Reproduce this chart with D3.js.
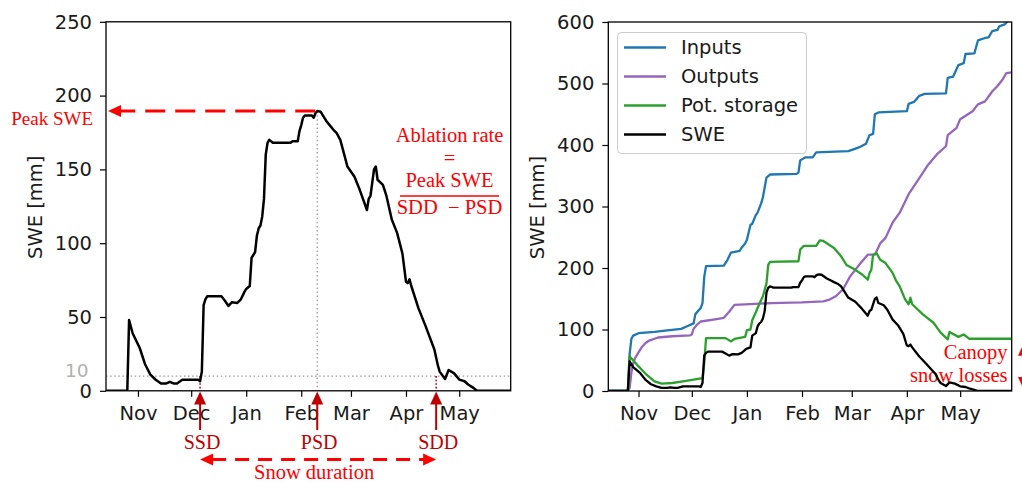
<!DOCTYPE html>
<html>
<head>
<meta charset="utf-8">
<script src="https://cdn.jsdelivr.net/npm/d3@7"></script>
<style>
  html, body { margin: 0; padding: 0; background: #fff; }
  svg { display: block; }
  text { font-family: "DejaVu Sans", sans-serif; }
  .note { font-family: "Liberation Serif", "Times New Roman", serif; }
</style>
</head>
<body>
<svg id="fig" width="1022" height="483"></svg>
<script>
// ---- data -------------------------------------------------------------
// Daily snow water equivalent (mm), breakpoints of the season
const sweSeries = [
  ["2018-10-14", 0], ["2018-10-26", 0], ["2018-10-27", 48], ["2018-10-29", 39],
  ["2018-11-02", 29], ["2018-11-05", 18], ["2018-11-08", 11], ["2018-11-11", 7.5],
  ["2018-11-14", 5], ["2018-11-17", 5], ["2018-11-19", 6], ["2018-11-21", 5],
  ["2018-11-23", 5], ["2018-11-26", 7.5], ["2018-12-05", 7.5], ["2018-12-06", 6.5],
  ["2018-12-07", 13], ["2018-12-08", 58], ["2018-12-09", 62], ["2018-12-10", 64],
  ["2018-12-18", 64], ["2018-12-20", 61], ["2018-12-22", 57.5], ["2018-12-24", 60],
  ["2018-12-27", 59.5], ["2018-12-29", 62], ["2018-12-31", 67], ["2019-01-01", 69],
  ["2019-01-03", 71], ["2019-01-04", 90], ["2019-01-05", 92], ["2019-01-06", 94],
  ["2019-01-07", 105], ["2019-01-08", 110], ["2019-01-09", 112], ["2019-01-10", 118],
  ["2019-01-11", 130], ["2019-01-12", 160], ["2019-01-13", 168], ["2019-01-14", 170],
  ["2019-01-16", 168], ["2019-01-26", 168], ["2019-01-27", 169], ["2019-01-30", 169],
  ["2019-01-31", 176], ["2019-02-01", 180], ["2019-02-02", 185], ["2019-02-03", 186.5],
  ["2019-02-07", 186.5], ["2019-02-08", 185], ["2019-02-09", 188], ["2019-02-10", 189.5],
  ["2019-02-12", 189], ["2019-02-13", 187], ["2019-02-15", 183], ["2019-02-17", 180],
  ["2019-02-19", 177], ["2019-02-21", 174.5], ["2019-02-23", 170], ["2019-02-25", 161],
  ["2019-02-27", 152], ["2019-03-03", 145], ["2019-03-06", 136], ["2019-03-10", 122.5],
  ["2019-03-11", 130], ["2019-03-12", 132], ["2019-03-14", 150], ["2019-03-15", 152],
  ["2019-03-16", 143], ["2019-03-19", 139.5], ["2019-03-21", 132], ["2019-03-24", 116],
  ["2019-03-27", 107], ["2019-03-30", 93], ["2019-04-01", 74], ["2019-04-02", 73],
  ["2019-04-03", 75.5], ["2019-04-04", 71], ["2019-04-08", 56], ["2019-04-12", 44],
  ["2019-04-17", 28], ["2019-04-19", 17], ["2019-04-20", 13], ["2019-04-23", 8],
  ["2019-04-25", 14], ["2019-04-28", 12], ["2019-05-01", 7.6], ["2019-05-04", 6.5],
  ["2019-05-06", 4.3], ["2019-05-09", 2], ["2019-05-11", 0], ["2019-05-30", 0]
];

// Cumulative snowfall inputs (mm)
const inputsSeries = [
  ["2018-10-15", 0], ["2018-10-26", 0], ["2018-10-27", 60], ["2018-10-28", 85],
  ["2018-10-29", 90], ["2018-11-01", 94], ["2018-11-10", 96], ["2018-11-16", 98],
  ["2018-11-25", 101], ["2018-11-29", 106], ["2018-12-02", 110], ["2018-12-03", 125],
  ["2018-12-06", 135], ["2018-12-07", 143], ["2018-12-08", 186], ["2018-12-09", 203],
  ["2018-12-19", 204], ["2018-12-21", 213], ["2018-12-23", 225], ["2018-12-28", 228],
  ["2018-12-29", 233], ["2018-12-31", 240], ["2019-01-01", 246], ["2019-01-03", 270],
  ["2019-01-04", 272], ["2019-01-06", 286], ["2019-01-07", 290], ["2019-01-09", 305],
  ["2019-01-10", 315], ["2019-01-12", 347], ["2019-01-14", 352], ["2019-01-29", 353],
  ["2019-01-30", 355], ["2019-01-31", 375], ["2019-02-03", 380], ["2019-02-07", 380],
  ["2019-02-09", 388], ["2019-02-27", 390], ["2019-03-02", 393], ["2019-03-05", 396],
  ["2019-03-09", 402], ["2019-03-11", 416], ["2019-03-13", 418], ["2019-03-14", 450],
  ["2019-03-16", 453], ["2019-04-01", 455], ["2019-04-02", 467], ["2019-04-05", 470],
  ["2019-04-08", 480], ["2019-04-11", 483], ["2019-04-23", 484], ["2019-04-24", 509],
  ["2019-04-27", 511], ["2019-04-30", 530], ["2019-05-03", 533], ["2019-05-04", 548],
  ["2019-05-09", 549], ["2019-05-11", 570], ["2019-05-15", 574], ["2019-05-17", 575],
  ["2019-05-19", 585], ["2019-05-22", 587], ["2019-05-23", 593], ["2019-05-26", 596],
  ["2019-05-28", 602], ["2019-05-30", 620]
];

// Cumulative outputs (mm)
const outputsSeries = [
  ["2018-10-15", 0], ["2018-10-26", 0], ["2018-10-27", 5], ["2018-10-28", 30],
  ["2018-10-29", 45], ["2018-10-30", 53], ["2018-11-01", 63], ["2018-11-03", 72],
  ["2018-11-05", 78], ["2018-11-07", 82], ["2018-11-12", 87], ["2018-11-20", 89],
  ["2018-11-30", 90.5], ["2018-12-01", 92], ["2018-12-02", 101], ["2018-12-04", 108],
  ["2018-12-06", 113], ["2018-12-15", 117], ["2018-12-19", 119], ["2018-12-22", 129],
  ["2018-12-25", 140], ["2018-12-31", 141], ["2019-01-15", 143], ["2019-02-01", 144],
  ["2019-02-13", 145.7], ["2019-02-16", 148], ["2019-02-20", 154], ["2019-02-24", 165],
  ["2019-02-28", 186], ["2019-03-06", 208], ["2019-03-10", 221.6], ["2019-03-14", 221.6],
  ["2019-03-17", 240], ["2019-03-20", 249], ["2019-03-24", 274], ["2019-03-28", 290],
  ["2019-04-02", 320], ["2019-04-08", 346], ["2019-04-13", 368], ["2019-04-18", 385],
  ["2019-04-23", 398], ["2019-04-24", 416], ["2019-04-29", 428], ["2019-05-01", 442],
  ["2019-05-08", 455], ["2019-05-11", 466], ["2019-05-15", 471], ["2019-05-19", 487],
  ["2019-05-22", 496], ["2019-05-25", 507], ["2019-05-27", 517], ["2019-05-30", 518]
];

// Potential storage (mm)
const storageSeries = [
  ["2018-10-15", 0], ["2018-10-26", 0], ["2018-10-27", 56], ["2018-10-29", 50],
  ["2018-11-01", 40], ["2018-11-05", 28], ["2018-11-10", 15.6], ["2018-11-14", 12],
  ["2018-11-20", 13], ["2018-11-26", 15.6], ["2018-12-02", 18.4], ["2018-12-07", 21],
  ["2018-12-08", 46], ["2018-12-09", 86], ["2018-12-20", 86], ["2018-12-23", 80.7],
  ["2018-12-25", 84.6], ["2018-12-31", 88], ["2019-01-01", 99], ["2019-01-03", 100],
  ["2019-01-04", 115], ["2019-01-06", 128], ["2019-01-07", 135], ["2019-01-09", 148],
  ["2019-01-10", 154], ["2019-01-12", 175], ["2019-01-13", 205], ["2019-01-14", 210],
  ["2019-01-30", 211], ["2019-01-31", 230], ["2019-02-02", 236], ["2019-02-09", 236],
  ["2019-02-11", 245], ["2019-02-13", 244], ["2019-02-19", 232.5], ["2019-02-23", 219],
  ["2019-02-26", 205], ["2019-03-03", 197], ["2019-03-07", 189], ["2019-03-10", 181],
  ["2019-03-11", 192], ["2019-03-12", 197], ["2019-03-13", 221.6], ["2019-03-15", 224],
  ["2019-03-17", 213.5], ["2019-03-20", 208], ["2019-03-24", 192], ["2019-03-26", 179],
  ["2019-03-28", 170], ["2019-03-31", 149], ["2019-04-02", 141], ["2019-04-03", 151.7],
  ["2019-04-04", 141], ["2019-04-10", 124.6], ["2019-04-16", 111], ["2019-04-20", 95],
  ["2019-04-24", 84], ["2019-04-25", 96], ["2019-04-30", 88], ["2019-05-03", 92],
  ["2019-05-06", 85], ["2019-05-30", 85]
];

// Axis ticks
const monthTicks = ["2018-11-01", "2018-12-01", "2019-01-01", "2019-02-01",
                    "2019-03-01", "2019-04-01", "2019-05-01"];
const leftYTicks = [0, 50, 100, 150, 200, 250];
const rightYTicks = [0, 100, 200, 300, 400, 500, 600];

// Key dates of the snow season
const keyLabels = ["SSD", "PSD", "SDD"];
const keyDates = ["2018-12-06", "2019-02-10", "2019-04-18"];
const sweThreshold = 10;

// Legend
const legendNames = ["Inputs", "Outputs", "Pot. storage", "SWE"];
const legendColors = ["#1f77b4", "#9467bd", "#2ca02c", "#000000"];

// ---- helpers ----------------------------------------------------------
const parse = d3.timeParse("%Y-%m-%d");
const toPts = s => s.map(([d, v]) => ({ date: parse(d), value: v }));
const swe = toPts(sweSeries);
const inputs = toPts(inputsSeries);
const outputs = toPts(outputsSeries);
const storage = toPts(storageSeries);
const ticks = monthTicks.map(parse);
const keys = keyDates.map(parse);

const RED = "#ff0000";
const DARKRED = "#c00000";
const FS = 19.5;

const svg = d3.select("#fig");

function tri(g, x, y, dir, color, len = 13, half = 6) {
  // triangular arrow head with its tip at (x, y)
  let p;
  if (dir === "left")  p = [[x, y], [x + len, y - half], [x + len, y + half]];
  if (dir === "right") p = [[x, y], [x - len, y - half], [x - len, y + half]];
  if (dir === "up")    p = [[x, y], [x - half, y + len], [x + half, y + len]];
  if (dir === "down")  p = [[x, y], [x - half, y - len], [x + half, y - len]];
  g.append("path").attr("d", "M" + p.map(q => q.join(",")).join("L") + "Z")
    .attr("fill", color);
}

function panel(opts) {
  const { x0, x1, y0, y1, start, end, yMax, yTicks, labelX, id } = opts;
  const x = d3.scaleTime().domain([parse(start), parse(end)]).range([x0, x1]);
  const y = d3.scaleLinear().domain([0, yMax]).range([y1, y0]);
  const g = svg.append("g");

  g.append("clipPath").attr("id", id)
    .append("rect").attr("x", x0).attr("y", y0).attr("width", x1 - x0).attr("height", y1 - y0);

  const xa = g.append("g").attr("transform", `translate(0,${y1})`)
    .call(d3.axisBottom(x).tickValues(ticks).tickFormat(d3.timeFormat("%b"))
      .tickSize(6).tickPadding(9));
  const ya = g.append("g").attr("transform", `translate(${x0},0)`)
    .call(d3.axisLeft(y).tickValues(yTicks).tickSize(6).tickPadding(8));
  [xa, ya].forEach(a => {
    a.select(".domain").remove();
    a.selectAll(".tick line").attr("stroke", "#000").attr("stroke-width", 1.2);
    a.selectAll(".tick text").attr("fill", "#1a1a1a")
      .style("font-family", "DejaVu Sans").style("font-size", FS + "px");
  });

  g.append("text")
    .attr("transform", `translate(${labelX},${(y0 + y1) / 2 + 1}) rotate(-90)`)
    .attr("text-anchor", "middle").attr("dominant-baseline", "central")
    .attr("fill", "#1a1a1a").style("font-size", FS + "px").text("SWE [mm]");

  const plot = g.append("g").attr("clip-path", `url(#${id})`);
  const frame = () => g.append("rect")
    .attr("x", x0).attr("y", y0).attr("width", x1 - x0).attr("height", y1 - y0)
    .attr("fill", "none").attr("stroke", "#000").attr("stroke-width", 1.3);
  return { x, y, g, plot, frame };
}

const line = (x, y) => d3.line().x(d => x(d.date)).y(d => y(d.value));

// ---- left panel: SWE with season metrics -----------------------------
const L = panel({ x0: 106, x1: 510.7, y0: 21.8, y1: 390.8,
  start: "2018-10-14", end: "2019-05-30", yMax: 250, yTicks: leftYTicks,
  labelX: 35, id: "clipL" });

const peak = d3.greatest(swe, d => d.value);
const yThr = L.y(sweThreshold);

// threshold line and its label (label nudged up to clear the 0 tick)
L.plot.append("line").attr("x1", 106).attr("x2", 510.7).attr("y1", yThr).attr("y2", yThr)
  .attr("stroke", "#9a9a9a").attr("stroke-width", 1.3).attr("stroke-dasharray", "1.5,2.6");
L.g.append("text").attr("x", 88.5).attr("y", yThr - 6).attr("text-anchor", "end")
  .attr("dominant-baseline", "central").attr("fill", "#b0b0b0")
  .style("font-size", "18.5px").text(sweThreshold);

// peak date marker
L.plot.append("line").attr("x1", L.x(peak.date)).attr("x2", L.x(peak.date))
  .attr("y1", L.y(peak.value)).attr("y2", L.y(0))
  .attr("stroke", "#9a9a9a").attr("stroke-width", 1.3).attr("stroke-dasharray", "1.5,2.6");

// start / end date markers below the threshold
[keys[0], keys[2]].forEach(d => {
  L.plot.append("line").attr("x1", L.x(d)).attr("x2", L.x(d))
    .attr("y1", yThr).attr("y2", L.y(0))
    .attr("stroke", DARKRED).attr("stroke-width", 1.6).attr("stroke-dasharray", "1.6,2");
});

L.plot.append("path").datum(swe).attr("d", line(L.x, L.y))
  .attr("fill", "none").attr("stroke", "#000").attr("stroke-width", 2.5)
  .attr("stroke-linejoin", "round");
L.frame();

// peak SWE arrow
const ann = svg.append("g");
const yPeak = L.y(peak.value);
ann.append("line").attr("x1", L.x(peak.date) - 2).attr("x2", 120)
  .attr("y1", yPeak).attr("y2", yPeak)
  .attr("stroke", RED).attr("stroke-width", 3).attr("stroke-dasharray", "20,10");
tri(ann, 108, yPeak, "left", RED);
ann.append("text").attr("class", "note").attr("x", 93).attr("y", yPeak + 13.5)
  .attr("text-anchor", "end").attr("fill", RED).style("font-size", "19px").text("Peak SWE");

// ablation rate formula
const fx = 449.5;
[["Ablation rate", 142], ["=", 165], ["Peak SWE", 187], ["SDD\u2002\u2212 PSD", 214]]
  .forEach(([t, yy]) => ann.append("text").attr("class", "note")
    .attr("x", fx).attr("y", yy).attr("text-anchor", "middle").attr("fill", RED)
    .style("font-size", "20.5px").text(t));
ann.append("line").attr("x1", 400).attr("x2", 499).attr("y1", 196).attr("y2", 196)
  .attr("stroke", RED).attr("stroke-width", 1.5);

// key date arrows under the axis
keys.forEach((d, i) => {
  const xx = L.x(d);
  ann.append("line").attr("x1", xx).attr("x2", xx).attr("y1", 430).attr("y2", 402)
    .attr("stroke", DARKRED).attr("stroke-width", 2);
  tri(ann, xx, 391.5, "up", DARKRED, 13, 6);
  ann.append("text").attr("class", "note").attr("x", xx + 2).attr("y", 448.5)
    .attr("text-anchor", "middle").attr("fill", DARKRED).style("font-size", "20px")
    .text(keyLabels[i]);
});

// snow duration arrow
const xs = L.x(keys[0]), xe = L.x(keys[2]);
ann.append("line").attr("x1", xs + 12).attr("x2", xe - 12).attr("y1", 459.5).attr("y2", 459.5)
  .attr("stroke", RED).attr("stroke-width", 3).attr("stroke-dasharray", "14,9");
tri(ann, xs, 459.5, "left", RED);
tri(ann, xe, 459.5, "right", RED);
ann.append("text").attr("class", "note").attr("x", (xs + xe) / 2 - 4).attr("y", 479)
  .attr("text-anchor", "middle").attr("fill", RED).style("font-size", "20.5px")
  .text("Snow duration");

// ---- right panel: mass balance --------------------------------------
const R = panel({ x0: 608.3, x1: 1011.7, y0: 22, y1: 391,
  start: "2018-10-15", end: "2019-05-30", yMax: 600, yTicks: rightYTicks,
  labelX: 537, id: "clipR" });

[[inputs, legendColors[0]], [outputs, legendColors[1]],
 [storage, legendColors[2]], [swe, legendColors[3]]].forEach(([s, c]) => {
  R.plot.append("path").datum(s).attr("d", line(R.x, R.y))
    .attr("fill", "none").attr("stroke", c).attr("stroke-width", 2.3)
    .attr("stroke-linejoin", "round");
});
R.frame();

// legend
const lg = svg.append("g");
lg.append("rect").attr("x", 617.5).attr("y", 32.5).attr("width", 189).attr("height", 121)
  .attr("rx", 4).attr("fill", "#fff").attr("fill-opacity", 0.85)
  .attr("stroke", "#cccccc").attr("stroke-width", 1);
legendNames.forEach((n, i) => {
  const yy = 47.5 + i * 29;
  lg.append("line").attr("x1", 624).attr("x2", 666).attr("y1", yy).attr("y2", yy)
    .attr("stroke", legendColors[i]).attr("stroke-width", 2.3);
  lg.append("text").attr("x", 681).attr("y", yy).attr("dominant-baseline", "central")
    .attr("fill", "#1a1a1a").style("font-size", FS + "px").text(n);
});

// canopy snow losses
const finalStorage = storage[storage.length - 1].value;
ann.append("text").attr("class", "note").attr("x", 1007.5).attr("y", 358.5)
  .attr("text-anchor", "end").attr("fill", RED).style("font-size", "20.5px").text("Canopy");
ann.append("text").attr("class", "note").attr("x", 1007.5).attr("y", 382)
  .attr("text-anchor", "end").attr("fill", RED).style("font-size", "20.5px").text("snow losses");
tri(ann, 1024, R.y(finalStorage) + 4, "up", RED, 13, 6);
tri(ann, 1024, R.y(0) - 1, "down", RED, 13, 6);
</script>
</body>
</html>
